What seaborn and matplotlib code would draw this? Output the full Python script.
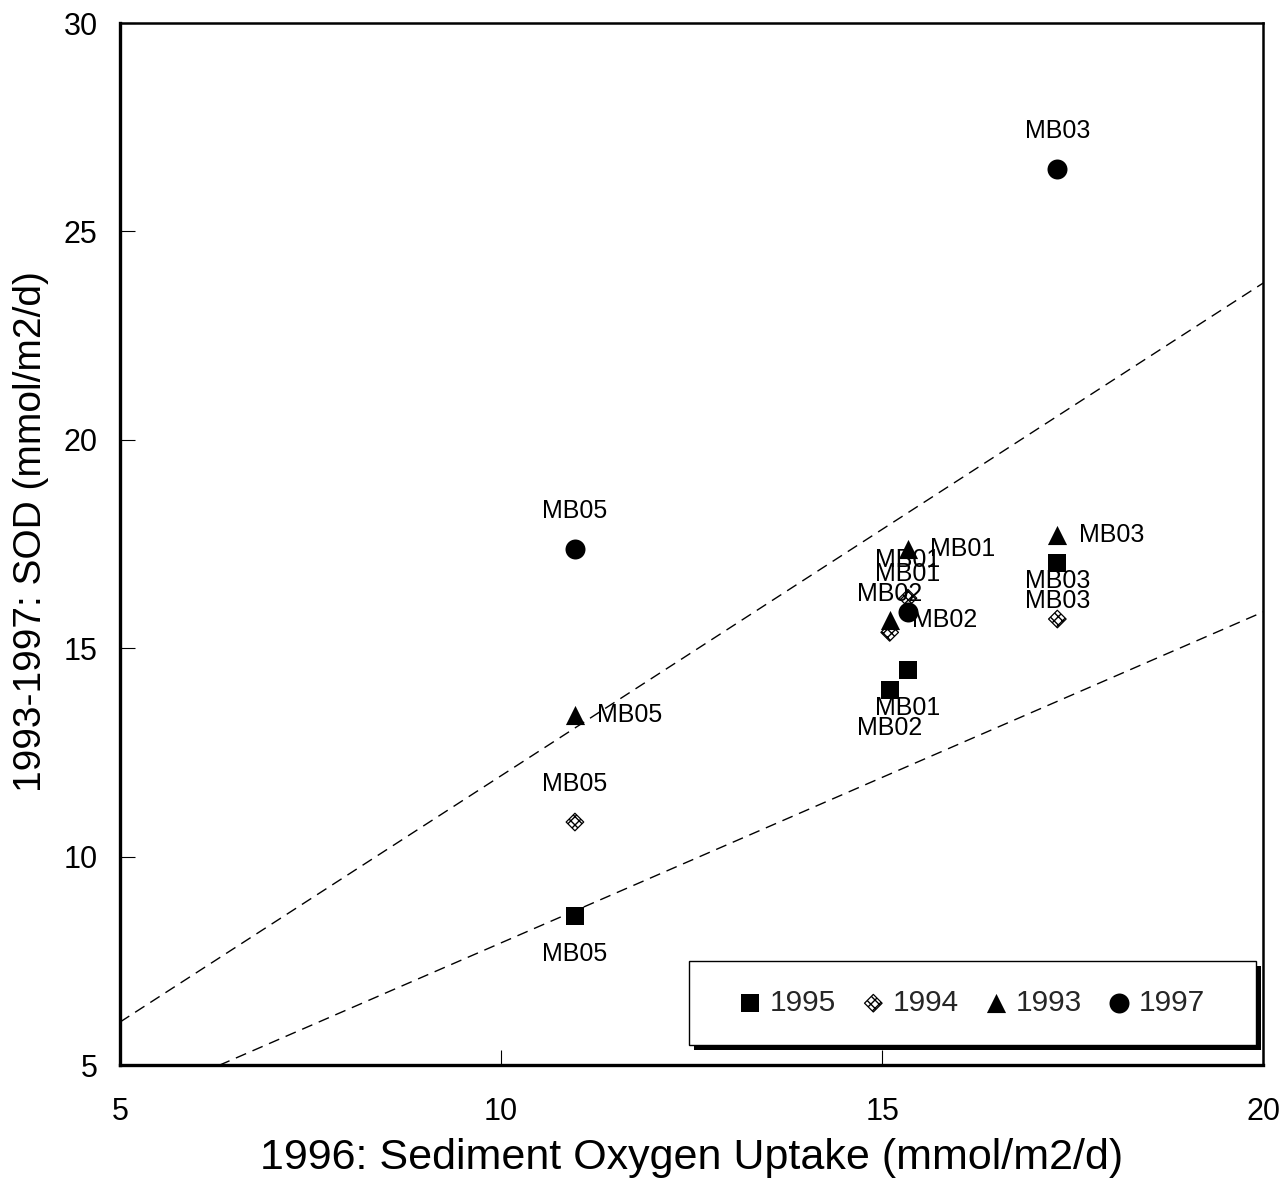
# ======== 1. Libraries ========
import numpy as np
import pandas as pd
import matplotlib
matplotlib.use('Agg')
import matplotlib.pyplot as plt
import seaborn as sns
from matplotlib.patches import Rectangle

# ======== 2. Data ========
sites = ['MB01', 'MB02', 'MB03', 'MB05']
uptake_1996 = [15.34, 15.10, 17.30, 10.97]      # x: 1996 sediment oxygen uptake
sod_1995 = [14.47, 13.99, 17.04, 8.57]
sod_1994 = [16.20, 15.38, 15.70, 10.83]
sod_1993 = [17.37, 15.67, 17.71, 13.39]
sod_1997 = [15.86, np.nan, 26.50, 17.37]        # no MB02 point in 1997
years = ['1995', '1994', '1993', '1997']

# dashed reference lines (end points)
line_x = [5, 20]
upper_line_y = [6.03, 23.76]
lower_line_y = [3.96, 15.87]

df = pd.DataFrame({
    'site': sites * 4,
    'uptake': uptake_1996 * 4,
    'sod': sod_1995 + sod_1994 + sod_1993 + sod_1997,
    'year': np.repeat(years, len(sites)),
}).dropna()

# ======== 3. Style ========
sns.set_theme(style='white')
plt.rcParams['font.family'] = ['Liberation Sans', 'DejaVu Sans']

marker_style = {
    '1995': dict(marker='s', s=168, color='black', edgecolor='black', linewidth=0),
    '1994': dict(marker='D', s=80, color='white', edgecolor='black', linewidth=0.9, hatch='xxxx'),
    '1993': dict(marker='^', s=190, color='black', edgecolor='black', linewidth=0),
    '1997': dict(marker='o', s=207, color='black', edgecolor='black', linewidth=0),
}
label_place = {'1995': 'below', '1994': 'above', '1993': 'right', '1997': 'above'}
label_offset = {'above': ((0, 38), 'center'), 'below': ((0, -38), 'center'), 'right': ((22, 0), 'left')}

# ======== 4. Plot ========
fig = plt.figure(figsize=(12.83, 11.86), dpi=100)
ax = fig.add_axes([0.0935, 0.102, 0.891, 0.8786])

sns.lineplot(x=line_x, y=upper_line_y, ax=ax, color='black', linewidth=1.0)
sns.lineplot(x=line_x, y=lower_line_y, ax=ax, color='black', linewidth=1.0)
for line in ax.lines:
    line.set_linestyle((0, (8, 5)))

for yr in years:
    sub = df[df['year'] == yr]
    sns.scatterplot(data=sub, x='uptake', y='sod', ax=ax, label=yr, zorder=3, **marker_style[yr])
    off, ha = label_offset[label_place[yr]]
    for _, row in sub.iterrows():
        ax.annotate(row['site'], (row['uptake'], row['sod']), xytext=off,
                    textcoords='offset pixels', ha=ha, va='center',
                    fontsize=18, color='black', zorder=4)

ax.set_xlim(5, 20)
ax.set_ylim(5, 30)
ax.set_xticks([5, 10, 15, 20])
ax.set_yticks([5, 10, 15, 20, 25, 30])
ax.tick_params(direction='in', length=11, width=0.8, color='black',
               labelsize=22, labelcolor='black', bottom=True, left=True)
ax.tick_params(axis='x', pad=23)
ax.tick_params(axis='y', pad=16)

for side, sp in ax.spines.items():
    sp.set_color('black')
    sp.set_linewidth(2.4 if side in ('left', 'bottom') else 1.8)

ax.set_xlabel('1996: Sediment Oxygen Uptake (mmol/m2/d)', fontsize=31, color='black', va='center')
ax.set_ylabel('1993-1997: SOD (mmol/m2/d)', fontsize=28, color='black', va='center')
ax.xaxis.set_label_coords(0.5, -0.089)
ax.yaxis.set_label_coords(-0.078, 0.512)

# ======== 5. Legend with black drop shadow ========
ax.add_patch(Rectangle((0.5024, 0.0142), 0.496, 0.081, transform=ax.transAxes,
                       facecolor='black', edgecolor='none', zorder=5))
ax.add_patch(Rectangle((0.498, 0.019), 0.496, 0.081, transform=ax.transAxes,
                       facecolor='white', edgecolor='black', linewidth=1, zorder=6))
leg = ax.legend(loc='center', bbox_to_anchor=(0.745, 0.0595), ncol=4, frameon=False,
                fontsize=21.5, handlelength=0.8, handletextpad=0.25, columnspacing=0.85,
                borderaxespad=0)
leg.set_zorder(7)

fig.savefig('out.png', dpi=100)
